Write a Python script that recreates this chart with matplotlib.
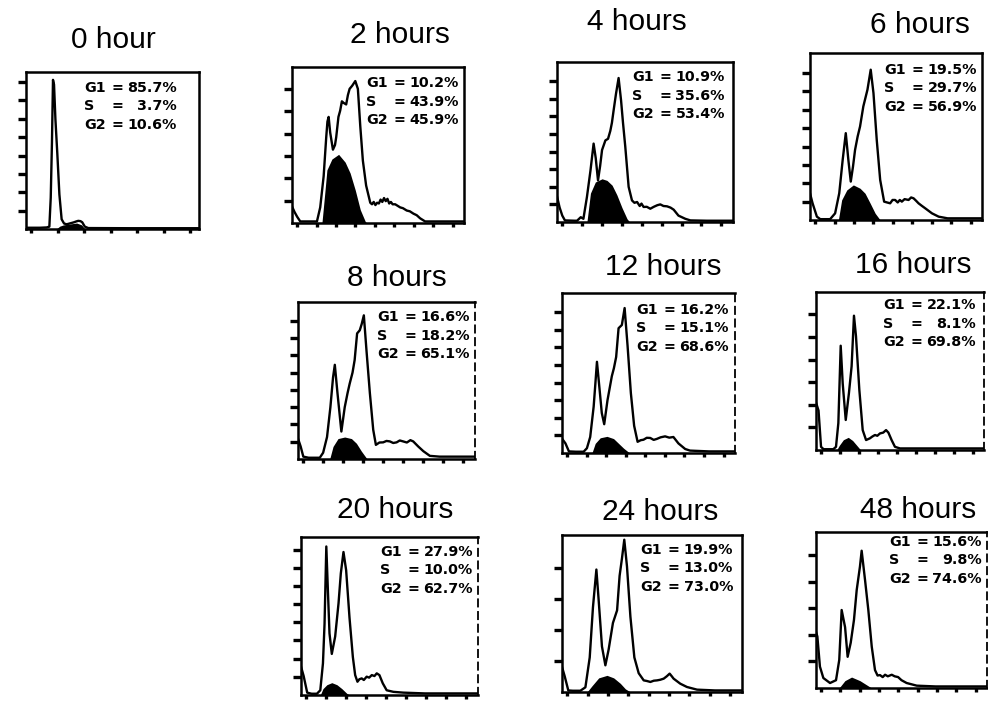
import numpy as np
import matplotlib
matplotlib.use("Agg")
import matplotlib.pyplot as plt

# ---------------- data (x = % of channel range, y = % of panel height) ----------------
titles = ["0 hour", "2 hours", "4 hours", "6 hours", "8 hours",
          "12 hours", "16 hours", "20 hours", "24 hours", "48 hours"]
g1_pct = ["85.7%", "10.2%", "10.9%", "19.5%", "16.6%", "16.2%", "22.1%", "27.9%", "19.9%", "15.6%"]
s_pct = ["3.7%", "43.9%", "35.6%", "29.7%", "18.2%", "15.1%", "8.1%", "10.0%", "13.0%", "9.8%"]
g2_pct = ["10.6%", "45.9%", "53.4%", "56.9%", "65.1%", "68.6%", "69.8%", "62.7%", "73.0%", "74.6%"]

h0_curve = [(0, 0.8), (8, 0.8), (12, 1.0), (13.5, 1.5), (14.3, 20), (15.0, 55), (15.6, 95),
            (16.2, 92), (17.0, 70), (18.1, 48), (19.3, 22), (20.6, 6.2), (22, 3.5), (23.5, 3),
            (25.5, 3.6), (27.5, 4.2), (29, 4.8), (30.2, 5.2), (31.5, 5), (32.5, 4.3), (34, 1.5),
            (36, 0.6), (60, 0.5), (100, 0.5)]
h0_sphase = [(17.5, 0), (19.5, 1.8), (21.6, 2.6), (25.4, 3.2), (29.3, 3.8), (32.2, 2.6), (34.0, 0)]

h2_curve = [(0, 10.6), (1.5, 7), (3, 4), (4.8, 1), (10, 1), (14.5, 1), (16.4, 10), (18.4, 30),
            (19.9, 55), (20.6, 65), (21.3, 68), (22.2, 58), (23.8, 47), (25.0, 50), (25.7, 55),
            (27.0, 68), (28.0, 72), (29.0, 78), (30.0, 77), (31.5, 76), (32.5, 82), (33.5, 86),
            (35.0, 88), (36.8, 91), (38.3, 86), (39.7, 62), (41.2, 40), (43.1, 24), (45.5, 13),
            (46.5, 12), (47.5, 13.5), (48.5, 11.5), (49.5, 13), (50.5, 12.5), (51.5, 15),
            (52.5, 13.5), (53.5, 16), (54.5, 14), (55.5, 15.5), (56.5, 12.5), (57.5, 13.5),
            (58.5, 12), (60, 12), (62.9, 10), (64.5, 9.5), (66.7, 8), (68.5, 7.5), (70.6, 6),
            (72.5, 5), (74.5, 3), (77.4, 1), (85, 1), (100, 1)]
h2_sphase = [(17.4, 0), (19.3, 22), (20.3, 34), (23.2, 41), (27.1, 44), (30.9, 39), (33.8, 32),
             (36.8, 21), (39.7, 8.5), (42.6, 1), (43.5, 0)]

h4_curve = [(0, 16), (1.5, 9), (3, 4), (4.5, 1), (10, 0.8), (11.4, 0.8), (13.5, 3), (15, 2),
            (17, 15.6), (19, 32), (20.8, 49), (22, 40), (23.3, 26), (24.5, 35), (25.6, 45),
            (27.5, 51), (29, 52), (30.3, 57), (31.2, 62), (32.2, 70), (33.5, 80), (35, 90),
            (36.4, 76), (37.5, 62), (38.8, 47), (40.7, 22), (42.6, 13.5), (44, 12), (45.5, 12.5),
            (47, 10), (48, 11.5), (49.2, 9.4), (51, 9.5), (53, 8.3), (55, 9.5), (57, 10.5),
            (58.7, 11), (60.5, 10), (62.5, 9.8), (64.5, 9), (66.3, 7.7), (69, 4), (72.9, 2),
            (75.8, 1), (85, 0.8), (100, 0.8)]
h4_sphase = [(17, 0), (19, 18), (21.8, 25), (25.6, 27), (28.4, 26), (31.3, 23), (34, 17),
             (36.9, 9), (39.8, 2), (41.3, 0)]

h6_curve = [(0, 16), (1.5, 10), (4, 2), (6, 0.5), (11.7, 0.5), (14.6, 4), (17, 16), (19, 36),
            (20.8, 52), (22.3, 36), (23.7, 23), (25, 32), (26.2, 42), (27.7, 50), (29.1, 56),
            (31, 68), (33.4, 78), (35.3, 90), (36.9, 76), (38.8, 48), (40.8, 24), (43.1, 11),
            (44.8, 10.5), (46.6, 10), (48, 12), (49.5, 12), (51, 10.5), (52.2, 12), (53.4, 11),
            (55, 12.5), (57.3, 12), (58.8, 13.5), (60.2, 13), (61.7, 11.5), (63.1, 10), (65, 8.5),
            (67, 7), (70.9, 4), (74.8, 2), (80, 1), (100, 1)]
h6_sphase = [(16.5, 0), (18.4, 12), (21.4, 18), (25.2, 21), (29.1, 19), (32, 16), (35, 10),
             (37.9, 4), (40.8, 0)]

h8_curve = [(0, 13), (1.5, 8), (3, 1.5), (6, 0.8), (12.3, 0.8), (14.2, 4), (16.4, 14), (18.3, 33),
            (19.8, 52), (20.8, 60), (22.3, 42), (24.5, 17.5), (26.4, 33), (28, 42), (29.2, 48),
            (30.8, 55), (32, 63), (33.4, 80), (34.9, 82), (36, 86), (37.2, 91.5), (38.7, 69),
            (40.6, 42), (42.5, 18.6), (44, 9), (46, 10.5), (48.1, 10.6), (50, 11.5), (51.9, 11.2),
            (53.8, 10.2), (55.7, 10.6), (57.5, 11.8), (59.4, 11.2), (61.5, 10.5), (63.5, 12),
            (65.1, 11.2), (67.9, 8), (70.8, 5), (74.5, 2), (80, 1.5), (100, 1.5)]
h8_sphase = [(17.9, 0), (19.8, 8), (22.6, 13), (26.4, 14), (30.2, 13), (33, 10), (35.8, 5),
             (38.7, 0.5), (39.5, 0)]

h12_curve = [(0, 9), (2, 6), (4, 1), (8, 0.8), (12.5, 0.8), (14.4, 3), (16.3, 10), (18.3, 29),
             (19.4, 45), (20.2, 57), (21.7, 40), (23, 25), (24.4, 18), (26.3, 33), (28.8, 48),
             (30, 53), (31.3, 60), (32.7, 78), (34.6, 80), (36.2, 90.6), (37.9, 67), (39.8, 37.5),
             (41.7, 17), (43.7, 7), (45.5, 8), (47.1, 8.3), (49, 9.5), (51, 9.4), (53, 8.2),
             (54.8, 8.8), (57, 9.8), (59.6, 10.4), (62, 9.6), (64.4, 10), (67.3, 6), (71.2, 2.5),
             (74, 1.5), (85, 1), (100, 1)]
h12_sphase = [(17.3, 0), (19.2, 6), (22.1, 9.5), (26, 10.4), (29.8, 9), (32.7, 6), (35.6, 3),
              (38.5, 0.5), (39.3, 0)]

h16_curve = [(0, 30), (1.5, 25), (3, 2), (4.5, 0.5), (10.3, 0.5), (11.9, 2), (13.3, 17),
             (14.7, 66), (15.9, 42), (17.7, 19), (19.6, 36), (21.2, 53), (22.6, 85), (23.8, 72),
             (25.8, 38), (27.8, 12.6), (29.8, 6.3), (32.1, 7.4), (33.5, 8.5), (35.1, 9.5),
             (36.5, 9), (38.1, 10.5), (40, 11), (41.7, 12.6), (43.1, 11), (45, 6.3), (47, 2),
             (50, 1), (100, 1)]
h16_sphase = [(12.3, 0), (13.9, 3), (16.3, 6.5), (19.2, 8), (21.8, 6), (24.2, 3), (26.2, 0.5),
              (27, 0)]

h20_curve = [(0, 18), (1.5, 12), (3.5, 1.5), (6, 0.8), (9, 0.8), (10.9, 3), (12.4, 20), (13.3, 45),
             (14.3, 94), (15.2, 66), (16.1, 39), (17.4, 26), (19.3, 37), (21.2, 58), (22.5, 77),
             (24, 90.5), (25.5, 79), (27.4, 49), (29.3, 24), (30.6, 12.6), (31.9, 8.4), (33, 10),
             (34.3, 10.5), (35.5, 9.5), (37.1, 11.6), (38.5, 11), (40, 12.6), (41.5, 12),
             (42.8, 13.7), (44.3, 12.6), (46.2, 7.4), (48.4, 3), (52.2, 2), (57.8, 1.5), (70, 1),
             (100, 1)]
h20_sphase = [(10.9, 0), (12.4, 4), (14.6, 6.5), (17.4, 7.8), (20.3, 6.5), (23.1, 4), (25.9, 1),
              (27.4, 0)]

h24_curve = [(0, 16), (1.5, 10), (3.5, 1), (6, 0.8), (10.2, 0.8), (13, 3), (15.4, 22), (17.2, 54),
             (19.1, 78), (20.4, 58), (22.2, 29), (24.1, 17), (25.9, 27), (28.3, 44), (30.6, 52),
             (32, 74), (33.3, 85), (34.6, 97), (36.1, 80), (38, 48), (40.2, 22), (42.6, 12),
             (45.4, 7.4), (47.2, 7), (49.1, 6.4), (51, 7.2), (52.8, 7.4), (54.6, 7.8), (56.5, 8.5),
             (58.2, 10), (59.8, 11.7), (61, 10), (62, 8.5), (65.7, 5.3), (69.4, 3.2), (75, 1.5),
             (85, 1), (100, 1)]
h24_sphase = [(13.9, 0), (16.7, 4), (20.4, 9), (25, 10.6), (28.7, 9), (32.4, 5.5), (35.2, 2),
              (38, 0)]

h48_curve = [(0, 36), (0.8, 33), (2.3, 13.7), (4.3, 6.4), (8.2, 3.2), (11.7, 5), (13.6, 18),
             (15, 50), (17, 39), (18.5, 20), (20.3, 29), (22.2, 43.6), (23.8, 62.8), (25.7, 77.8),
             (26.7, 88), (28.7, 69), (30.6, 50), (32.6, 26.5), (34.5, 11.5), (36, 8), (37.4, 8.3),
             (39, 7), (40.4, 8.5), (42, 7.5), (44.3, 8.5), (46, 7.5), (48, 7), (50, 5), (53, 3.2),
             (58.9, 1.5), (70, 1), (100, 1)]
h48_sphase = [(13.5, 0), (16.9, 4.7), (20.8, 7), (25.7, 4.7), (29.6, 2), (32.5, 0)]

curves = [h0_curve, h2_curve, h4_curve, h6_curve, h8_curve,
          h12_curve, h16_curve, h20_curve, h24_curve, h48_curve]
sphases = [h0_sphase, h2_sphase, h4_sphase, h6_sphase, h8_sphase,
           h12_sphase, h16_sphase, h20_sphase, h24_sphase, h48_sphase]

# ---------------- layout (pixels) ----------------
W, H = 988, 702
boxes = [(26, 72, 199, 229), (292, 67, 464, 223), (557, 62, 733, 222), (810, 53, 982, 220),
         (298, 302, 475, 459), (562, 293, 735, 453), (816, 292, 984, 450),
         (301, 537, 478, 695), (562, 535, 742, 692), (816, 532, 987, 688)]
title_pos = [(113, 40), (400, 35), (637, 22), (920, 25), (397, 278),
             (663, 267), (913, 265), (395, 510), (660, 512), (918, 510)]
text_pos = [(177, 88), (459, 83), (725, 77), (977, 70), (470, 317),
            (729, 310), (976, 305), (473, 552), (733, 550), (982, 542)]
ytick_step = [11.7, 14.3, 11.0, 11.0, 11.0, 11.0, 14.3, 11.5, 19.8, 17.0]
xtick_step = [15.3, 11.3, 11.3, 11.3, 11.3, 11.3, 11.3, 11.3, 11.3, 11.3]
dashed_right = [False, False, False, False, True, True, True, True, False, True]

fig = plt.figure(figsize=(W / 100, H / 100), dpi=100)
fig.patch.set_facecolor("white")

def fx(px):
    return px / W

def fy(py):
    return 1 - py / H

for i in range(10):
    l, t, r, b = boxes[i]
    ax = fig.add_axes([fx(l), fy(b), (r - l) / W, (b - t) / H])
    cx, cy = zip(*curves[i])
    sx, sy = zip(*sphases[i])
    ax.fill_between(sx, 0, sy, color="black", lw=0, zorder=2)
    ax.plot(cx, cy, color="black", lw=1.7, zorder=3, solid_joinstyle="round")
    ax.set_xlim(0, 100)
    ax.set_ylim(0, 100)
    ax.set_yticks(np.arange(ytick_step[i], 98, ytick_step[i]))
    ax.set_xticks(np.arange(3, 100, xtick_step[i]))
    ax.set_xticklabels([])
    ax.set_yticklabels([])
    ax.tick_params(axis="y", direction="out", length=6, width=2.4, color="black")
    ax.tick_params(axis="x", direction="out", length=3, width=2.4, color="black")
    for side, sp in ax.spines.items():
        sp.set_linewidth(1.8)
        sp.set_color("black")
    if dashed_right[i]:
        ax.spines["right"].set_linestyle((0, (4, 3)))
        ax.spines["right"].set_linewidth(1.3)

    tx, ty = title_pos[i]
    fig.text(fx(tx), fy(ty), titles[i], ha="center", va="center",
             family="Liberation Sans", fontsize=21.5)

    rx, ry = text_pos[i]
    rows = [("G1", g1_pct[i]), ("S", s_pct[i]), ("G2", g2_pct[i])]
    for k, (lab, val) in enumerate(rows):
        yy = ry + k * 18.5
        kw = dict(va="center", family="DejaVu Sans", fontweight="bold", fontsize=10.3)
        fig.text(fx(rx - 93), fy(yy), lab, ha="left", **kw)
        fig.text(fx(rx - 60), fy(yy), "=", ha="center", **kw)
        fig.text(fx(rx), fy(yy), val, ha="right", **kw)

fig.savefig("out.png", dpi=100, facecolor="white")
